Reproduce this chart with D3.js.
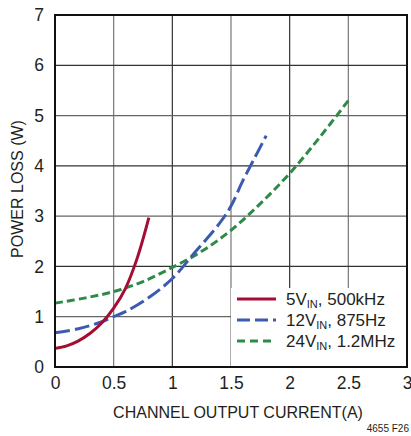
<!DOCTYPE html>
<html><head><meta charset="utf-8">
<script src="https://cdn.jsdelivr.net/npm/d3@7"></script>
<style>
body{margin:0;background:#fff;}
text{font-family:"Liberation Sans Narrow","Arial Narrow","Liberation Sans",Arial,sans-serif;fill:#231f20;}
</style></head>
<body><svg id="c" width="411" height="436"></svg>
<script>
const xTicks=[0,0.5,1,1.5,2,2.5,3];
const xTickLabels=["0","0.5","1","1.5","2","2.5","3"];
const yTicks=[0,1,2,3,4,5,6,7];
const yTickLabels=["0","1","2","3","4","5","6","7"];
const series5V_x=[0,0.1,0.2,0.3,0.4,0.5,0.6,0.7,0.8];
const series5V_y=[0.37,0.42,0.52,0.67,0.88,1.17,1.56,2.16,2.97];
const series12V_x=[0,0.2,0.4,0.5,0.6,0.8,1.0,1.2,1.4,1.5,1.6,1.7,1.8];
const series12V_y=[0.68,0.76,0.9,1.0,1.1,1.38,1.76,2.3,2.85,3.2,3.7,4.15,4.6];
const series24V_x=[0,0.25,0.5,0.75,1.0,1.25,1.5,1.75,2.0,2.25,2.5];
const series24V_y=[1.27,1.37,1.5,1.7,1.98,2.3,2.72,3.25,3.85,4.55,5.3];
const seriesNames=["5V","12V","24V"];
const seriesSuffix=[", 500kHz",", 875Hz",", 1.2MHz"];

const svg=d3.select("#c");
const L=55,R=407,T=15,B=367;
const x=d3.scaleLinear().domain([0,3]).range([L,R]);
const y=d3.scaleLinear().domain([0,7]).range([B,T]);

// grid
const g=svg.append("g");
g.selectAll(".vg").data(xTicks.slice(1,-1)).enter().append("line")
 .attr("x1",d=>x(d)).attr("x2",d=>x(d)).attr("y1",T).attr("y2",B)
 .attr("stroke",d=>Number.isInteger(d)?"#333":"#777").attr("stroke-width",1.2);
g.selectAll(".hg").data(yTicks.slice(1,-1)).enter().append("line")
 .attr("y1",d=>y(d)).attr("y2",d=>y(d)).attr("x1",L).attr("x2",R)
 .attr("stroke",d=>d%2===0?"#333":"#666").attr("stroke-width",1.2);

// legend background
svg.append("rect").attr("x",231).attr("y",288).attr("width",R-231).attr("height",B-288).attr("fill","#fff");

const line=d3.line().x(d=>x(d[0])).y(d=>y(d[1])).curve(d3.curveCatmullRom);
const defs=[
 {xs:series5V_x,ys:series5V_y,color:"#a50d32",dash:null},
 {xs:series12V_x,ys:series12V_y,color:"#3b5bb0",dash:"15,5"},
 {xs:series24V_x,ys:series24V_y,color:"#2e8b47",dash:"8,4"}
];
const plot=svg.append("g");
defs.slice().reverse().forEach(s=>{
 plot.append("path").datum(s.xs.map((v,i)=>[v,s.ys[i]])).attr("d",line)
  .attr("fill","none").attr("stroke",s.color).attr("stroke-width",3)
  .attr("stroke-dasharray",s.dash);
});

// frame
svg.append("rect").attr("x",L).attr("y",T).attr("width",R-L).attr("height",B-T)
 .attr("fill","none").attr("stroke","#111").attr("stroke-width",2);

// axes labels
const xa=d3.axisBottom(x).tickValues(xTicks).tickFormat((d,i)=>xTickLabels[i]).tickSize(0).tickPadding(10);
const xg=svg.append("g").attr("transform",`translate(0,${B})`).call(xa);
xg.select(".domain").remove();
xg.selectAll("text").attr("font-size",17.5).attr("font-family",null);
const ya=d3.axisLeft(y).tickValues(yTicks).tickFormat((d,i)=>yTickLabels[i]).tickSize(0).tickPadding(11);
const yg=svg.append("g").attr("transform",`translate(${L},0)`).call(ya);
yg.select(".domain").remove();
yg.selectAll("text").attr("font-size",17.5).attr("font-family",null);

svg.append("text").attr("x",238).attr("y",418).attr("text-anchor","middle").attr("font-size",16).text("CHANNEL OUTPUT CURRENT(A)");
svg.append("text").attr("transform","translate(23,189) rotate(-90)").attr("text-anchor","middle").attr("font-size",16).text("POWER LOSS (W)");
svg.append("text").attr("x",409).attr("y",432).attr("text-anchor","end").attr("font-size",10).text("4655 F26");

// legend
const ly=[299,320,341];
defs.forEach((s,i)=>{
 svg.append("line").attr("x1",237).attr("x2",276).attr("y1",ly[i]).attr("y2",ly[i])
  .attr("stroke",s.color).attr("stroke-width",3).attr("stroke-dasharray",s.dash?(i===1?"13,5":"8,5"):null);
 const t=svg.append("text").attr("x",286).attr("y",ly[i]+6).attr("font-size",17);
 t.append("tspan").text(seriesNames[i]);
 t.append("tspan").attr("font-size",11).attr("dy",3).text("IN");
 t.append("tspan").attr("dy",-3).text(seriesSuffix[i]);
});
</script></body></html>
